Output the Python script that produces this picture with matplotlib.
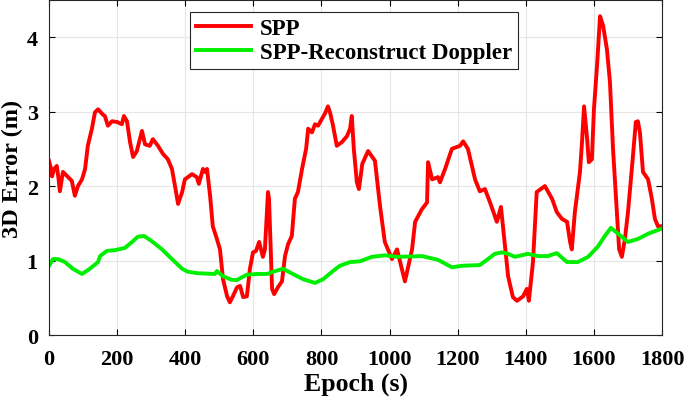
import matplotlib

matplotlib.use("Agg")
import matplotlib.pyplot as plt

# SPP 3D error (epoch s, error m)
spp_epoch = [
    0, 5, 9, 15, 23, 28, 32, 41, 56, 67, 76, 85, 97, 106, 114, 126, 135, 144,
    156, 164, 173, 185, 200, 214, 220, 229, 238, 247, 258, 273, 282, 296, 305,
    320, 335, 349, 361, 370, 379, 391, 399, 420, 434, 440, 452, 458, 464, 473,
    481, 493, 502, 511, 523, 531, 540, 552, 561, 570, 581, 590, 599, 608, 617,
    628, 634, 643, 646, 655, 661, 672, 684, 693, 702, 713, 722, 731, 743, 755,
    761, 772, 781, 790, 801, 810, 819, 825, 834, 845, 860, 875, 884, 889, 895,
    904, 910, 920, 937, 957, 972, 986, 1007, 1022, 1045, 1066, 1075, 1095,
    1110, 1113, 1125, 1142, 1148, 1163, 1183, 1207, 1216, 1230, 1251, 1265,
    1280, 1295, 1315, 1327, 1339, 1348, 1362, 1374, 1392, 1403, 1409, 1421,
    1432, 1456, 1477, 1491, 1506, 1521, 1530, 1535, 1544, 1559, 1565, 1571,
    1580, 1585, 1594, 1600, 1609, 1618, 1627, 1638, 1647, 1656, 1668, 1674,
    1682, 1691, 1700, 1712, 1723, 1729, 1735, 1744, 1759, 1770, 1779, 1788,
    1800,
]
spp_error = [
    2.34, 2.25, 2.13, 2.23, 2.27, 2.10, 1.93, 2.19, 2.12, 2.07, 1.87, 2.00,
    2.09, 2.23, 2.54, 2.77, 2.99, 3.03, 2.97, 2.94, 2.81, 2.87, 2.86, 2.83,
    2.94, 2.87, 2.59, 2.39, 2.47, 2.74, 2.56, 2.54, 2.63, 2.54, 2.43, 2.36,
    2.23, 2.00, 1.76, 1.92, 2.09, 2.16, 2.12, 2.03, 2.23, 2.19, 2.23, 1.87,
    1.46, 1.29, 1.15, 0.75, 0.52, 0.44, 0.52, 0.64, 0.66, 0.51, 0.52, 0.89,
    1.11, 1.13, 1.25, 1.05, 1.15, 1.92, 1.83, 0.62, 0.55, 0.64, 0.72, 1.06,
    1.22, 1.33, 1.83, 1.92, 2.23, 2.50, 2.77, 2.72, 2.83, 2.81, 2.90, 2.97,
    3.07, 2.99, 2.81, 2.54, 2.59, 2.67, 2.77, 2.94, 2.50, 2.05, 1.96, 2.30,
    2.47, 2.34, 1.73, 1.25, 1.02, 1.15, 0.72, 1.15, 1.52, 1.69, 1.78, 2.32,
    2.09, 2.12, 2.05, 2.23, 2.50, 2.54, 2.60, 2.50, 2.09, 1.93, 1.96, 1.78,
    1.52, 1.72, 1.19, 0.79, 0.51, 0.46, 0.52, 0.62, 0.46, 0.98, 1.92, 2.00,
    1.83, 1.65, 1.56, 1.52, 1.25, 1.15, 1.65, 2.19, 2.59, 3.07, 2.63, 2.32,
    2.36, 3.03, 3.61, 4.28, 4.15, 3.84, 3.40, 2.50, 1.60, 1.15, 1.05, 1.29,
    1.65, 2.27, 2.86, 2.87, 2.72, 2.19, 2.09, 1.83, 1.56, 1.46, 1.46,
]

# SPP with reconstructed Doppler
rd_epoch = [
    0, 12, 26, 47, 70, 97, 120, 144, 150, 170, 194, 223, 244, 261, 279, 302,
    332, 361, 391, 408, 437, 487, 493, 511, 537, 552, 581, 611, 640, 658, 687,
    716, 746, 781, 805, 834, 854, 884, 913, 948, 986, 1025, 1095, 1142, 1183,
    1213, 1265, 1289, 1309, 1330, 1348, 1368, 1406, 1436, 1465, 1491, 1521,
    1553, 1583, 1612, 1632, 1650, 1671, 1700, 1729, 1759, 1800,
]
rd_error = [
    0.93, 1.02, 1.02, 0.98, 0.89, 0.82, 0.89, 0.98, 1.06, 1.13, 1.14, 1.17,
    1.25, 1.32, 1.33, 1.26, 1.15, 1.02, 0.89, 0.85, 0.83, 0.82, 0.86, 0.79,
    0.74, 0.74, 0.81, 0.82, 0.82, 0.85, 0.89, 0.82, 0.75, 0.70, 0.75, 0.86,
    0.93, 0.98, 0.99, 1.05, 1.07, 1.05, 1.06, 1.01, 0.91, 0.93, 0.94, 1.02,
    1.09, 1.11, 1.09, 1.05, 1.09, 1.06, 1.06, 1.10, 0.98, 0.98, 1.05, 1.19,
    1.33, 1.44, 1.36, 1.25, 1.29, 1.36, 1.43,
]

x_ticks = [0, 200, 400, 600, 800, 1000, 1200, 1400, 1600, 1800]
y_ticks = [0, 1, 2, 3, 4]


def main() -> None:
    plt.rcParams["font.family"] = ["Liberation Serif", "DejaVu Serif"]
    plt.rcParams["font.weight"] = "bold"

    fig = plt.figure(figsize=(6.85, 4.02), dpi=100)
    ax = fig.add_axes([0.0715, 0.164, 0.895, 0.834])

    ax.plot(spp_epoch, spp_error, color="#ff0000", lw=2.8, label="SPP")
    ax.plot(rd_epoch, rd_error, color="#00ee00", lw=2.8,
            label="SPP-Reconstruct Doppler")

    ax.set_xlim(0, 1800)
    ax.set_ylim(0, 4.5)
    ax.set_xticks(x_ticks)
    ax.set_yticks(y_ticks)
    ax.tick_params(direction="in", top=True, right=True, labelsize=16,
                   length=4, width=0.8)
    ax.tick_params(axis="x", pad=10)
    ax.tick_params(axis="y", pad=8)
    for lab in ax.get_xticklabels() + ax.get_yticklabels():
        lab.set_fontweight("bold")
    for sp in ax.spines.values():
        sp.set_color("#262626")
        sp.set_linewidth(0.8)
    ax.grid(True, color="#e6e6e6", lw=0.8)

    ax.set_xlabel("Epoch (s)", fontsize=18.5, fontweight="bold", labelpad=2)
    ax.set_ylabel("3D Error (m)", fontsize=17.5, fontweight="bold", labelpad=3)

    leg = ax.legend(loc="upper left", bbox_to_anchor=(0.230, 0.964),
                    borderaxespad=0, fancybox=False, framealpha=1,
                    prop={"size": 16.5, "weight": "bold"}, handlelength=2.4,
                    borderpad=0.25, labelspacing=0.15, handletextpad=0.4)
    leg.get_frame().set_edgecolor("#262626")
    leg.get_frame().set_linewidth(0.8)

    fig.savefig("out.png", dpi=100)
    plt.close(fig)


if __name__ == "__main__":
    main()
